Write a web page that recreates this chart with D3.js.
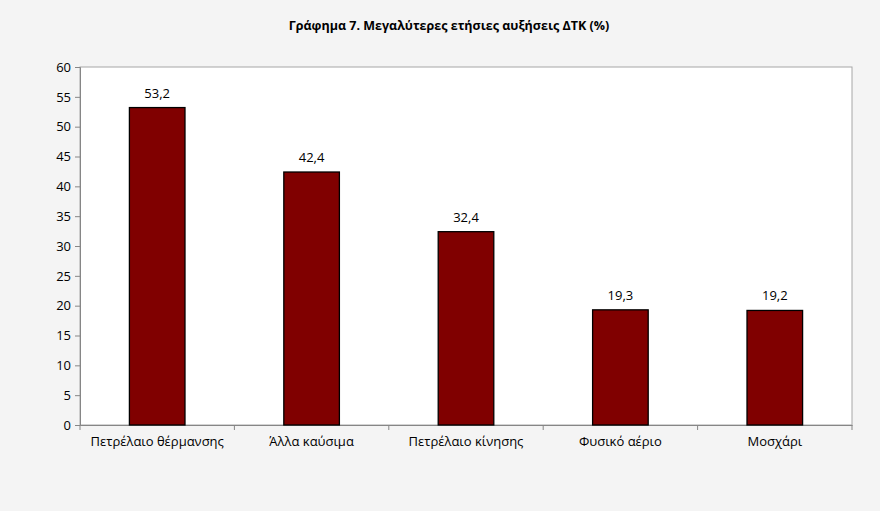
<!DOCTYPE html>
<html><head><meta charset="utf-8">
<script src="https://cdn.jsdelivr.net/npm/d3@7"></script>
<style>body{margin:0;background:#f4f4f4;} svg{display:block;font-family:"Open Sans","Noto Sans",sans-serif;}</style>
</head><body>
<svg id="c" width="880" height="511"></svg>
<script>
const title = "Γράφημα 7. Μεγαλύτερες ετήσιες αυξήσεις ΔΤΚ (%)";
const categories = ["Πετρέλαιο θέρμανσης", "Άλλα καύσιμα", "Πετρέλαιο κίνησης", "Φυσικό αέριο", "Μοσχάρι"];
const values = [53.2, 42.4, 32.4, 19.3, 19.2];
const yTicks = [0, 5, 10, 15, 20, 25, 30, 35, 40, 45, 50, 55, 60];

const svg = d3.select("#c");
const m = {l: 80, r: 28, t: 67, b: 86};
const W = 880, H = 511;
const x = d3.scaleBand().domain(categories).range([m.l, W - m.r]).paddingInner(0.64).paddingOuter(0.32);
const xb = d3.scaleBand().domain(categories).range([m.l, W - m.r]);
const y = d3.scaleLinear().domain([0, 60]).range([H - m.b, m.t]);

svg.append("rect").attr("width", W).attr("height", H).attr("fill", "#f4f4f4");
svg.append("rect").attr("x", m.l).attr("y", m.t).attr("width", W - m.r - m.l).attr("height", H - m.b - m.t)
  .attr("fill", "#fff").attr("stroke", "#a6a6a6").attr("stroke-width", 1);

svg.append("text").attr("x", 449).attr("y", 30).attr("text-anchor", "middle")
  .attr("font-weight", "bold").attr("font-size", 12.5).attr("fill", "#000").text(title);

// y axis
const ya = svg.append("g").attr("transform", `translate(${m.l},0)`)
  .call(d3.axisLeft(y).tickValues(yTicks).tickSize(5).tickPadding(4).tickFormat(d3.format("d")));
ya.select(".domain").attr("stroke", "#868686");
ya.selectAll(".tick line").attr("stroke", "#868686");
ya.selectAll("text").attr("font-size", 13).attr("fill", "#000").attr("font-family", "'Open Sans',sans-serif");

// x axis
const xa = svg.append("g").attr("transform", `translate(0,${H - m.b})`)
  .call(d3.axisBottom(xb).tickSize(0).tickPadding(12));
xa.select(".domain").attr("stroke", "#868686");
xa.selectAll("text").attr("font-size", 13).attr("fill", "#000").attr("font-family", "'Open Sans',sans-serif");
// category boundary ticks
const bounds = categories.map(c => xb(c)).concat([W - m.r]);
svg.append("g").selectAll("line").data(bounds).join("line")
  .attr("x1", d => d).attr("x2", d => d).attr("y1", H - m.b).attr("y2", H - m.b + 5)
  .attr("stroke", "#868686");

// bars
svg.append("g").selectAll("rect").data(values).join("rect")
  .attr("x", (d, i) => x(categories[i])).attr("width", x.bandwidth())
  .attr("y", d => y(d)).attr("height", d => y(0) - y(d))
  .attr("fill", "#800000").attr("stroke", "#000").attr("stroke-width", 1.3);

svg.append("g").selectAll("text").data(values).join("text")
  .attr("x", (d, i) => x(categories[i]) + x.bandwidth() / 2).attr("y", d => y(d) - 10)
  .attr("text-anchor", "middle").attr("font-size", 13).attr("fill", "#000")
  .text(d => d.toFixed(1).replace(".", ","));
</script>
</body></html>
